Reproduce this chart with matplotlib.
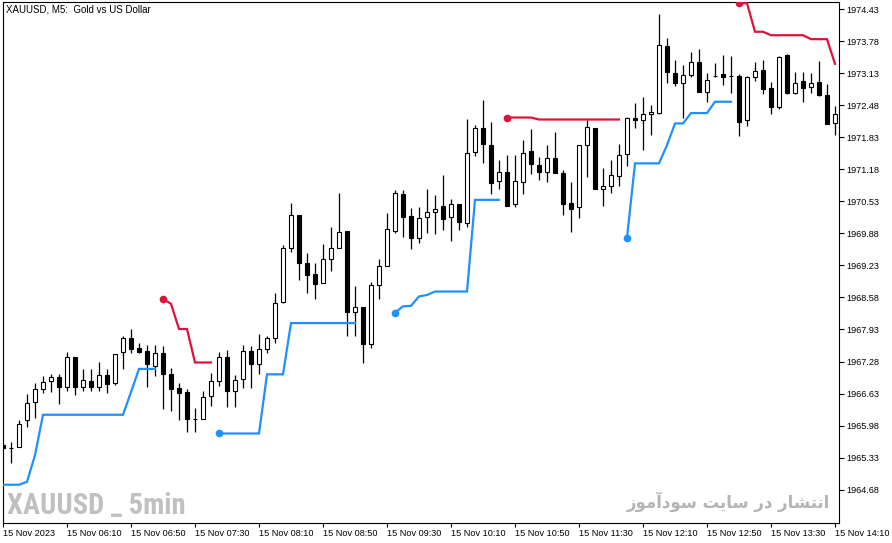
import matplotlib

matplotlib.use("Agg")
import matplotlib.pyplot as plt
import numpy as np
from matplotlib import font_manager

NaN = np.nan

# 5-minute XAUUSD bars, 15 Nov 2023 05:30 .. 14:10
opens = [
    1965.59, 1965.53, 1965.54, 1966.09, 1966.45, 1966.72, 1966.88, 1966.96, 1966.76, 1967.37,
    1966.76, 1966.88, 1966.77, 1967.00, 1966.84, 1967.47, 1967.75, 1967.55, 1967.49, 1967.18,
    1967.45, 1967.03, 1966.74, 1966.66, 1966.11, 1966.12, 1966.59, 1966.88, 1967.37, 1966.68,
    1966.92, 1967.49, 1967.22, 1967.53, 1967.75, 1968.49, 1969.58, 1970.25, 1969.27, 1969.06,
    1968.87, 1969.35, 1969.58, 1969.93, 1968.28, 1968.39, 1967.64, 1968.83, 1969.21, 1969.93,
    1970.68, 1970.23, 1969.79, 1970.21, 1970.31, 1970.43, 1970.21, 1970.47, 1970.10, 1971.54,
    1972.01, 1971.67, 1970.94, 1971.12, 1970.47, 1970.93, 1971.56, 1971.26, 1971.12, 1971.40,
    1971.10, 1970.49, 1970.41, 1971.67, 1972.01, 1970.79, 1970.85, 1971.04, 1971.50, 1972.23,
    1972.17, 1972.30, 1972.33, 1973.68, 1973.13, 1972.94, 1973.10, 1973.36, 1972.74, 1973.08,
    1973.11, 1973.07, 1973.07, 1972.19, 1973.05, 1973.19, 1972.82, 1972.45, 1973.50, 1972.73,
    1972.97, 1972.84, 1972.96, 1972.69, 1972.11,
]
highs = [
    1965.63, 1965.64, 1966.09, 1966.62, 1966.84, 1966.98, 1967.02, 1967.02, 1967.47, 1967.38,
    1967.12, 1967.12, 1967.27, 1967.12, 1967.44, 1967.80, 1967.93, 1967.65, 1967.61, 1967.61,
    1967.60, 1967.15, 1966.84, 1966.73, 1966.33, 1966.68, 1967.04, 1967.48, 1967.51, 1967.00,
    1967.62, 1967.60, 1967.84, 1967.80, 1968.68, 1969.64, 1970.49, 1970.26, 1969.48, 1969.28,
    1969.66, 1970.00, 1970.69, 1969.93, 1968.81, 1968.39, 1968.89, 1969.37, 1970.29, 1970.76,
    1970.75, 1970.40, 1970.42, 1970.78, 1970.66, 1971.06, 1970.58, 1970.47, 1972.21, 1972.08,
    1972.58, 1972.13, 1971.37, 1971.47, 1971.47, 1971.77, 1971.99, 1971.43, 1971.67, 1971.93,
    1971.16, 1970.92, 1971.68, 1972.17, 1972.02, 1971.20, 1971.37, 1971.69, 1972.25, 1972.52,
    1972.65, 1972.48, 1974.33, 1973.84, 1973.40, 1973.29, 1973.56, 1973.63, 1973.13, 1973.33,
    1973.50, 1973.48, 1973.11, 1973.07, 1973.36, 1973.40, 1972.96, 1973.48, 1973.52, 1973.16,
    1973.16, 1973.14, 1973.38, 1972.91, 1972.46,
]
lows = [
    1965.49, 1965.22, 1965.54, 1965.96, 1966.13, 1966.64, 1966.66, 1966.42, 1966.69, 1966.61,
    1966.68, 1966.68, 1966.68, 1966.64, 1966.80, 1967.13, 1967.45, 1967.45, 1966.77, 1966.99,
    1966.32, 1966.27, 1966.09, 1965.84, 1965.86, 1966.12, 1966.38, 1966.79, 1966.36, 1966.36,
    1966.74, 1966.74, 1967.02, 1967.46, 1967.66, 1968.47, 1969.51, 1968.93, 1968.68, 1968.55,
    1968.87, 1969.12, 1969.58, 1967.80, 1967.80, 1967.24, 1967.56, 1968.55, 1969.21, 1969.89,
    1969.81, 1969.57, 1969.69, 1969.89, 1969.86, 1969.94, 1969.73, 1969.94, 1970.00, 1971.45,
    1971.31, 1970.68, 1970.79, 1970.44, 1970.42, 1970.67, 1971.08, 1970.96, 1970.93, 1971.10,
    1970.25, 1969.91, 1970.19, 1971.03, 1970.79, 1970.44, 1970.70, 1970.85, 1971.25, 1972.02,
    1971.58, 1971.88, 1972.31, 1972.94, 1972.87, 1972.22, 1973.06, 1972.75, 1972.54, 1973.05,
    1972.89, 1972.73, 1971.86, 1972.06, 1972.97, 1972.70, 1972.31, 1972.40, 1972.70, 1972.70,
    1972.54, 1972.73, 1972.67, 1972.09, 1971.88,
]
closes = [
    1965.53, 1965.53, 1966.01, 1966.43, 1966.72, 1966.86, 1966.96, 1966.76, 1967.37, 1966.77,
    1966.91, 1966.77, 1967.00, 1966.82, 1967.43, 1967.75, 1967.54, 1967.48, 1967.22, 1967.45,
    1967.03, 1966.73, 1966.65, 1966.12, 1966.11, 1966.57, 1966.88, 1967.37, 1966.69, 1966.91,
    1967.49, 1967.22, 1967.53, 1967.75, 1968.46, 1969.58, 1970.25, 1969.28, 1969.04, 1968.86,
    1969.35, 1969.58, 1969.90, 1968.29, 1968.39, 1967.64, 1968.83, 1969.21, 1969.96, 1970.69,
    1970.22, 1969.79, 1970.19, 1970.31, 1970.37, 1970.18, 1970.47, 1970.12, 1971.52, 1972.01,
    1971.69, 1970.91, 1971.12, 1970.44, 1970.94, 1971.52, 1971.28, 1971.13, 1971.40, 1971.10,
    1970.48, 1970.37, 1971.67, 1972.03, 1970.79, 1970.85, 1971.06, 1971.48, 1972.22, 1972.17,
    1972.30, 1972.34, 1973.71, 1973.15, 1972.94, 1973.09, 1973.36, 1972.75, 1972.99, 1973.08,
    1973.05, 1973.07, 1972.14, 1973.05, 1973.17, 1972.81, 1972.45, 1973.45, 1972.73, 1972.94,
    1972.82, 1972.93, 1972.68, 1972.09, 1972.30,
]

# trailing stop indicator: support (blue) and resistance (red) levels
support = [
    1964.78, 1964.78, 1964.78, 1964.84, 1965.38, 1966.20, 1966.20, 1966.20, 1966.20, 1966.20,
    1966.20, 1966.20, 1966.20, 1966.20, 1966.20, 1966.20, 1966.66, 1967.13, 1967.13, 1967.13,
    NaN, NaN, NaN, NaN, NaN, NaN, NaN, 1965.82, 1965.82, 1965.82,
    1965.82, 1965.82, 1965.82, 1967.02, 1967.02, 1967.02, 1968.06, 1968.06, 1968.06, 1968.06,
    1968.06, 1968.06, 1968.06, 1968.06, 1968.06, NaN, NaN, NaN, NaN, 1968.27,
    1968.40, 1968.41, 1968.60, 1968.63, 1968.70, 1968.70, 1968.70, 1968.70, 1968.70, 1970.56,
    1970.56, 1970.56, 1970.56, NaN, NaN, NaN, NaN, NaN, NaN, NaN,
    NaN, NaN, NaN, NaN, NaN, NaN, NaN, NaN, 1969.79, 1971.30,
    1971.30, 1971.30, 1971.30, 1971.67, 1972.11, 1972.11, 1972.32, 1972.32, 1972.32, 1972.55,
    1972.55, 1972.55, NaN, NaN, NaN, NaN, NaN, NaN, NaN, NaN,
    NaN, NaN, NaN, NaN, NaN,
]
resistance = [
    NaN, NaN, NaN, NaN, NaN, NaN, NaN, NaN, NaN, NaN,
    NaN, NaN, NaN, NaN, NaN, NaN, NaN, NaN, NaN, NaN,
    1968.55, 1968.45, 1967.94, 1967.94, 1967.26, 1967.26, 1967.26, NaN, NaN, NaN,
    NaN, NaN, NaN, NaN, NaN, NaN, NaN, NaN, NaN, NaN,
    NaN, NaN, NaN, NaN, NaN, NaN, NaN, NaN, NaN, NaN,
    NaN, NaN, NaN, NaN, NaN, NaN, NaN, NaN, NaN, NaN,
    NaN, NaN, NaN, 1972.23, 1972.23, 1972.23, 1972.23, 1972.19, 1972.19, 1972.19,
    1972.19, 1972.19, 1972.19, 1972.19, 1972.19, 1972.19, 1972.19, 1972.19, NaN, NaN,
    NaN, NaN, NaN, NaN, NaN, NaN, NaN, NaN, NaN, NaN,
    NaN, NaN, 1974.55, 1974.55, 1973.97, 1973.97, 1973.90, 1973.90, 1973.90, 1973.90,
    1973.90, 1973.82, 1973.82, 1973.82, 1973.32,
]

price_ticks = [
    1974.43, 1973.78, 1973.13, 1972.48, 1971.83, 1971.18, 1970.53, 1969.88,
    1969.23, 1968.58, 1967.93, 1967.28, 1966.63, 1965.98, 1965.33, 1964.68,
]
time_labels = [
    "15 Nov 2023", "15 Nov 06:10", "15 Nov 06:50", "15 Nov 07:30", "15 Nov 08:10",
    "15 Nov 08:50", "15 Nov 09:30", "15 Nov 10:10", "15 Nov 10:50", "15 Nov 11:30",
    "15 Nov 12:10", "15 Nov 12:50", "15 Nov 13:30", "15 Nov 14:10",
]
BARS_PER_LABEL = 8

TITLE = "XAUUSD, M5:  Gold vs US Dollar"
WATERMARK_EN = "XAUUSD _ 5min"
# "انتشار در سایت سودآموز" in presentation forms, visual order (matplotlib does no shaping)
WATERMARK_FA = (
    "\uFEAF\uFEEE\uFEE3\uFE81\uFEA9\uFEEE\uFEB3 "
    "\uFE96\uFEF3\uFE8E\uFEB3 "
    "\uFEAD\uFEA9 "
    "\uFEAD\uFE8E\uFEB8\uFE98\uFEE7\uFE8D"
)

BLUE = "#1E90FF"
RED = "#DC143C"
W, H = 892, 543


def segment_starts(values):
    v = np.asarray(values, dtype=float)
    ok = ~np.isnan(v)
    prev = np.concatenate([[False], ok[:-1]])
    return np.where(ok & ~prev & (np.arange(len(v)) > 0))[0]


def narrow_bold_font():
    # the watermark is a narrow bold face; take whatever condensed bold is installed
    prefs = ["Liberation Sans Narrow", "Roboto Condensed", "Open Sans Condensed",
             "Noto Sans", "DejaVu Sans", "Open Sans", "Roboto"]
    narrow = ("condensed", "semi-condensed", "extra-condensed", "ultra-condensed")
    best = None
    for f in font_manager.fontManager.ttflist:
        w = f.weight if isinstance(f.weight, int) else font_manager.weight_dict.get(f.weight, 400)
        if w < 700 or "italic" in f.style.lower():
            continue
        if not (str(f.stretch) in narrow or "Narrow" in f.name or "Condensed" in f.name):
            continue
        rank = next((k for k, p in enumerate(prefs) if f.name.startswith(p)), len(prefs))
        if best is None or rank < best[0]:
            best = (rank, f.fname)
    if best is None:
        return font_manager.FontProperties(family="DejaVu Sans", weight="bold")
    return font_manager.FontProperties(fname=best[1])


def fit_width(fig, txt, target_px):
    fig.canvas.draw()
    width = txt.get_window_extent().width
    txt.set_fontsize(txt.get_fontsize() * target_px / width)


def main():
    plt.rcParams["font.family"] = ["Liberation Sans", "DejaVu Sans"]

    fig = plt.figure(figsize=(W / 100, H / 100), dpi=100)
    ax = fig.add_axes([3 / W, 20.3 / H, 836 / W, 521 / H])

    o = np.array(opens)
    c = np.array(closes)
    x = np.arange(len(o))

    ax.vlines(x, lows, highs, color="black", lw=0.9, zorder=2)
    body_lo = np.minimum(o, c)
    body_h = np.abs(c - o)
    fill = np.where(c > o, "white", "black")
    ax.bar(x, body_h, bottom=body_lo, width=0.55, color=fill, edgecolor="black",
           linewidth=0.8, zorder=3)

    for vals, col in [(support, BLUE), (resistance, RED)]:
        ax.plot(x, vals, color=col, lw=1.6, zorder=4, solid_joinstyle="miter")
        s = segment_starts(vals)
        ax.plot(x[s], np.asarray(vals)[s], "o", color=col, ms=4.5, zorder=5)

    ax.set_xlim(0, 104.5)
    ax.set_ylim(1964.01, 1974.58)

    ax.yaxis.tick_right()
    ax.set_yticks(price_ticks)
    ax.set_yticklabels([f"{p:.2f}" for p in price_ticks])
    ax.tick_params(axis="y", direction="out", length=3.5, width=0.8, pad=1.5, labelsize=6.6)

    ax.set_xticks(np.arange(len(time_labels)) * BARS_PER_LABEL)
    ax.set_xticklabels(time_labels, ha="left")
    ax.tick_params(axis="x", direction="out", length=3, width=0.8, pad=1.5, labelsize=6.6)

    for sp in ax.spines.values():
        sp.set_linewidth(0.8)
        sp.set_color("black")

    ax.text(0.003, 0.994, TITLE, transform=ax.transAxes, ha="left", va="top", fontsize=7)

    en = ax.text(0.005, 0.016, WATERMARK_EN, transform=ax.transAxes, ha="left", va="baseline",
                 fontproperties=narrow_bold_font(), fontsize=22, color="#C0C0C0")
    fa = ax.text(0.989, 0.028, WATERMARK_FA, transform=ax.transAxes, ha="right", va="baseline",
                 fontsize=14, fontweight="bold", color="#B4B4B4", family=["DejaVu Sans"])
    fit_width(fig, en, 179)
    fit_width(fig, fa, 205)

    fig.savefig("out.png", dpi=100)
    plt.close(fig)


if __name__ == "__main__":
    main()
